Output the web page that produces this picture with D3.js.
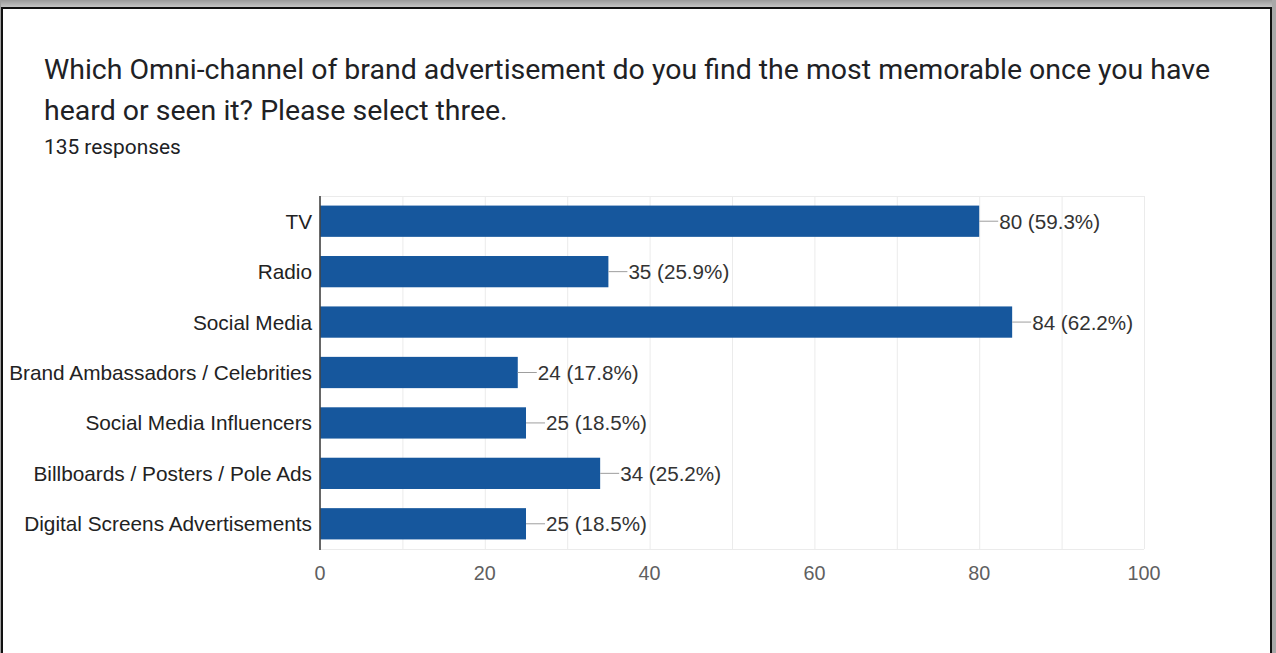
<!DOCTYPE html>
<html>
<head>
<meta charset="utf-8">
<script src="https://cdn.jsdelivr.net/npm/d3@7/dist/d3.min.js"></script>
<style>
  html, body { margin: 0; padding: 0; background: #fff; }
  svg { display: block; }
</style>
</head>
<body>
<svg id="chart" width="1276" height="653"></svg>
<script>
// Survey question and answer counts
const titleLines = [
  "Which Omni-channel of brand advertisement do you find the most memorable once you have",
  "heard or seen it? Please select three."
];
const totalResponses = 135;
const categories = [
  "TV",
  "Radio",
  "Social Media",
  "Brand Ambassadors / Celebrities",
  "Social Media Influencers",
  "Billboards / Posters / Pole Ads",
  "Digital Screens Advertisements"
];
const counts = [80, 35, 84, 24, 25, 34, 25];
const tickValues = [0, 20, 40, 60, 80, 100];
const gridValues = [0, 10, 20, 30, 40, 50, 60, 70, 80, 90, 100];

const W = 1276, H = 653;
const svg = d3.select("#chart");

// Scale a text's font size so it spans a given width
function fitWidth(sel, target) {
  const node = sel.node();
  const fs = parseFloat(sel.attr("font-size"));
  const w = node.getComputedTextLength();
  sel.attr("font-size", (fs * target / w).toFixed(2));
  return fs * target / w;
}

// Window frame
const frameGrad = svg.append("defs").append("linearGradient")
  .attr("id", "topbar").attr("x1", 0).attr("x2", 0).attr("y1", 0).attr("y2", 1);
frameGrad.append("stop").attr("offset", 0).attr("stop-color", "#9a9a9a");
frameGrad.append("stop").attr("offset", 1).attr("stop-color", "#c4c4c4");
svg.append("rect").attr("x", 0).attr("y", 0).attr("width", W).attr("height", 7).attr("fill", "url(#topbar)");
svg.append("rect").attr("x", 0).attr("y", 0).attr("width", 1).attr("height", H).attr("fill", "#a0a0a0");
svg.append("rect").attr("x", 1272).attr("y", 0).attr("width", 4).attr("height", H).attr("fill", "#a8a8a8");
svg.append("rect").attr("x", 1).attr("y", 7).attr("width", 1271).attr("height", 2).attr("fill", "#111");
svg.append("rect").attr("x", 1).attr("y", 7).attr("width", 2).attr("height", H).attr("fill", "#111");
svg.append("rect").attr("x", 1270).attr("y", 7).attr("width", 2).attr("height", H).attr("fill", "#111");

// Title and response count
const t1 = svg.append("text").attr("x", 44).attr("y", 79)
  .attr("font-family", "Roboto, 'Open Sans', sans-serif").attr("font-size", 24)
  .attr("fill", "#202124").text(titleLines[0]);
const titleSize = fitWidth(t1, 1166);
svg.append("text").attr("x", 44).attr("y", 120)
  .attr("font-family", "Roboto, 'Open Sans', sans-serif").attr("font-size", titleSize.toFixed(2))
  .attr("fill", "#202124").text(titleLines[1]);
const resp = svg.append("text").attr("x", 44).attr("y", 154)
  .attr("font-family", "Roboto, 'Open Sans', sans-serif").attr("font-size", 17)
  .attr("fill", "#202124").text(`${totalResponses} responses`);
fitWidth(resp, 137);

// Plot area
const plot = { left: 320, right: 1144, top: 196, bottom: 549 };
const x = d3.scaleLinear().domain([0, 100]).range([plot.left, plot.right]);
const y = d3.scaleBand().domain(categories).range([plot.top, plot.bottom])
  .paddingInner(0.38).paddingOuter(0.19);

const font = "'Liberation Sans', Arial, sans-serif";

// Grid
const g = svg.append("g");
g.selectAll("line.vgrid").data(gridValues).join("line")
  .attr("class", "vgrid")
  .attr("x1", d => x(d) + 0.5).attr("x2", d => x(d) + 0.5)
  .attr("y1", plot.top).attr("y2", plot.bottom)
  .attr("stroke", "#ebebeb").attr("stroke-width", 1);
g.append("line").attr("x1", plot.left).attr("x2", plot.right)
  .attr("y1", plot.top + 0.5).attr("y2", plot.top + 0.5).attr("stroke", "#ebebeb");
g.append("line").attr("x1", plot.left).attr("x2", plot.right)
  .attr("y1", plot.bottom + 0.5).attr("y2", plot.bottom + 0.5).attr("stroke", "#ebebeb");

// Bars
g.selectAll("rect.bar").data(counts).join("rect")
  .attr("class", "bar")
  .attr("x", x(0))
  .attr("y", (d, i) => y(categories[i]))
  .attr("width", d => x(d) - x(0))
  .attr("height", y.bandwidth())
  .attr("fill", "#16579d");

// Baseline
g.append("line").attr("x1", x(0)).attr("x2", x(0))
  .attr("y1", plot.top).attr("y2", plot.bottom + 1)
  .attr("stroke", "#444").attr("stroke-width", 1.6);

// Leader lines and value labels
g.selectAll("line.lead").data(counts).join("line")
  .attr("class", "lead")
  .attr("x1", d => x(d)).attr("x2", d => x(d) + 19)
  .attr("y1", (d, i) => y(categories[i]) + y.bandwidth() / 2)
  .attr("y2", (d, i) => y(categories[i]) + y.bandwidth() / 2)
  .attr("stroke", "#9e9e9e").attr("stroke-width", 1);
const vals = g.selectAll("text.val").data(counts).join("text")
  .attr("class", "val")
  .attr("x", d => x(d) + 20)
  .attr("y", (d, i) => y(categories[i]) + y.bandwidth() / 2)
  .attr("dy", "0.36em")
  .attr("font-family", font).attr("font-size", 19)
  .attr("fill", "#333")
  .text(d => `${d} (${(d / totalResponses * 100).toFixed(1)}%)`);
const valSize = fitWidth(d3.select(vals.nodes()[0]), 101);
vals.attr("font-size", valSize.toFixed(2));

// Category labels
const cats = g.selectAll("text.cat").data(categories).join("text")
  .attr("class", "cat")
  .attr("x", 312)
  .attr("y", d => y(d) + y.bandwidth() / 2)
  .attr("dy", "0.36em")
  .attr("text-anchor", "end")
  .attr("font-family", font).attr("font-size", 19)
  .attr("fill", "#222")
  .text(d => d);
const catSize = fitWidth(d3.select(cats.nodes()[3]), 303);
cats.attr("font-size", catSize.toFixed(2));

// X axis tick labels
const ticks = g.selectAll("text.tick").data(tickValues).join("text")
  .attr("class", "tick")
  .attr("x", d => x(d))
  .attr("y", 580)
  .attr("text-anchor", "middle")
  .attr("font-family", font).attr("font-size", 19)
  .attr("fill", "#5f5f5f")
  .text(d => d);
const tickSize = fitWidth(d3.select(ticks.nodes()[5]), 33);
ticks.attr("font-size", tickSize.toFixed(2));
</script>
</body>
</html>
